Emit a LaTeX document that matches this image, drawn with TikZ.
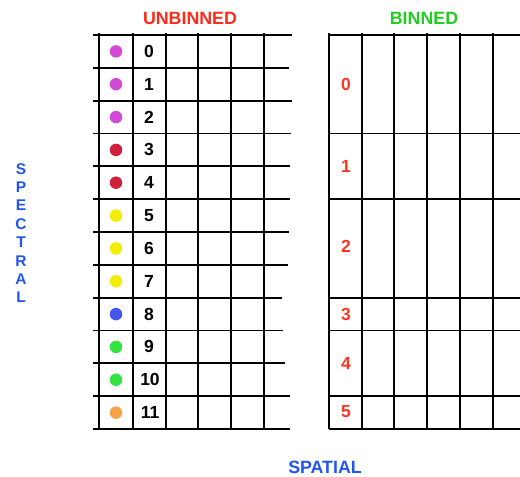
\documentclass[tikz,border=0pt]{standalone}
\usepackage{fontspec}
\setmainfont{Liberation Sans}
\definecolor{titlered}{HTML}{FF2A1A}
\definecolor{titlegreen}{HTML}{22CC22}
\definecolor{axisblue}{HTML}{2255EE}
\definecolor{binred}{HTML}{FF3322}
\definecolor{dotmagenta}{HTML}{D24BD8}
\definecolor{dotcrimson}{HTML}{D0203C}
\definecolor{dotyellow}{HTML}{F2EE0A}
\definecolor{dotblue}{HTML}{4455EE}
\definecolor{dotgreen}{HTML}{33E33F}
\definecolor{dotorange}{HTML}{F9A04A}

\begin{document}
\begin{tikzpicture}[x=1pt,y=-1pt,
  gridline/.style={line width=1.8pt,black},
  dotmark/.style={circle,inner sep=0pt,minimum size=12.5pt,draw=none},
  rownum/.style={anchor=center,inner sep=1pt,font=\fontsize{17.5}{19}\selectfont\bfseries},
  binlab/.style={anchor=center,inner sep=1pt,text=binred,font=\fontsize{17.5}{19}\selectfont\bfseries},
  heading/.style={anchor=center,inner sep=1pt,font=\fontsize{17.8}{19}\selectfont\bfseries}]
\path[use as bounding box] (0,0) rectangle (520,477);
% titles
\node[heading,text=titlered] (unbinned) at (190,18) {UNBINNED};
\node[heading,text=titlegreen] (binned) at (424,18) {BINNED};
\node[heading,text=axisblue,align=center,font=\fontsize{15.5}{18.4}\selectfont\bfseries] (spectral) at (21,233) {S\\P\\E\\C\\T\\R\\A\\L};
\node[heading,text=axisblue] (spatial) at (325,467) {SPATIAL};
% unbinned grid
\draw[gridline] (93,35.0) -- (292,35.0);
\draw[gridline] (93,67.8) -- (289,67.8);
\draw[gridline] (93,100.7) -- (292,100.7);
\draw[gridline] (93,133.5) -- (291,133.5);
\draw[gridline] (93,166.3) -- (290,166.3);
\draw[gridline] (93,199.2) -- (290,199.2);
\draw[gridline] (93,232.0) -- (289,232.0);
\draw[gridline] (93,264.8) -- (288,264.8);
\draw[gridline] (93,297.7) -- (282,297.7);
\draw[gridline] (93,330.5) -- (283,330.5);
\draw[gridline] (93,363.3) -- (285,363.3);
\draw[gridline] (93,396.2) -- (290,396.2);
\draw[gridline] (93,429.0) -- (290,429.0);
\draw[gridline] (99.3,33) -- (99.3,429);
\draw[gridline] (132.7,33) -- (132.7,429);
\draw[gridline] (165.7,33) -- (165.7,429);
\draw[gridline] (198.3,33) -- (198.3,429);
\draw[gridline] (231.0,33) -- (231.0,429);
\draw[gridline] (263.7,33) -- (263.7,429);
% dots and row numbers
\node[dotmark,fill=dotmagenta] (dot0) at (116,51.4) {};
\node[rownum] (num0) at (149,51.4) {0};
\node[dotmark,fill=dotmagenta] (dot1) at (116,84.2) {};
\node[rownum] (num1) at (149,84.2) {1};
\node[dotmark,fill=dotmagenta] (dot2) at (116,117.1) {};
\node[rownum] (num2) at (149,117.1) {2};
\node[dotmark,fill=dotcrimson] (dot3) at (116,149.9) {};
\node[rownum] (num3) at (149,149.9) {3};
\node[dotmark,fill=dotcrimson] (dot4) at (116,182.7) {};
\node[rownum] (num4) at (149,182.7) {4};
\node[dotmark,fill=dotyellow] (dot5) at (116,215.6) {};
\node[rownum] (num5) at (149,215.6) {5};
\node[dotmark,fill=dotyellow] (dot6) at (116,248.4) {};
\node[rownum] (num6) at (149,248.4) {6};
\node[dotmark,fill=dotyellow] (dot7) at (116,281.2) {};
\node[rownum] (num7) at (149,281.2) {7};
\node[dotmark,fill=dotblue] (dot8) at (116,314.1) {};
\node[rownum] (num8) at (149,314.1) {8};
\node[dotmark,fill=dotgreen] (dot9) at (116,346.9) {};
\node[rownum] (num9) at (149,346.9) {9};
\node[dotmark,fill=dotgreen] (dot10) at (116,379.7) {};
\node[rownum] (num10) at (150,379.7) {10};
\node[dotmark,fill=dotorange] (dot11) at (116,412.6) {};
\node[rownum] (num11) at (150,412.6) {11};
% binned grid
\draw[gridline] (329,35.0) -- (520,35.0);
\draw[gridline] (329,133.5) -- (520,133.5);
\draw[gridline] (329,199.2) -- (520,199.2);
\draw[gridline] (329,297.7) -- (520,297.7);
\draw[gridline] (329,330.5) -- (520,330.5);
\draw[gridline] (329,396.2) -- (520,396.2);
\draw[gridline] (329,429.0) -- (520,429.0);
\draw[gridline] (329.3,33) -- (329.3,429);
\draw[gridline] (362.0,33) -- (362.0,429);
\draw[gridline] (394.3,33) -- (394.3,429);
\draw[gridline] (427.3,33) -- (427.3,429);
\draw[gridline] (460.0,33) -- (460.0,429);
\draw[gridline] (493.0,33) -- (493.0,429);
\node[binlab] (bin0) at (346,84.3) {0};
\node[binlab] (bin1) at (346,166.3) {1};
\node[binlab] (bin2) at (346,246.5) {2};
\node[binlab] (bin3) at (346,314.1) {3};
\node[binlab] (bin4) at (346,363.3) {4};
\node[binlab] (bin5) at (346,411.5) {5};
\end{tikzpicture}
\end{document}
